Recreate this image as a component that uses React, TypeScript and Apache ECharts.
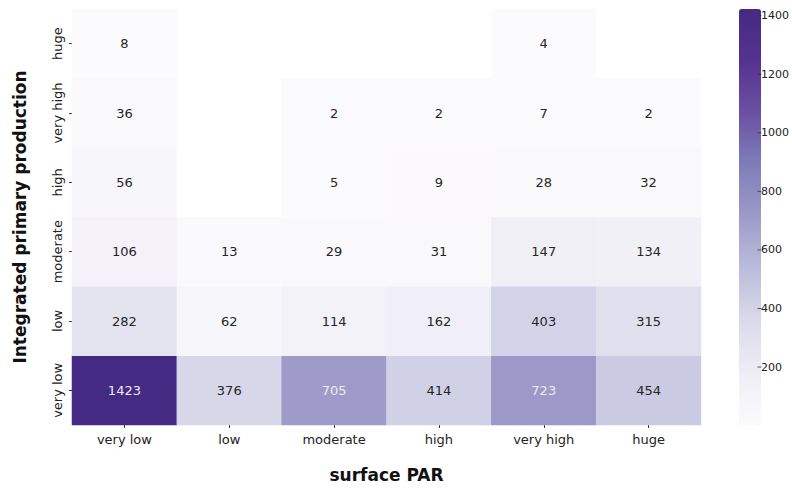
import React, { useEffect, useRef } from "react";
import * as echarts from "echarts";

const xCategories = ["very low", "low", "moderate", "high", "very high", "huge"];
const yCategories = ["very low", "low", "moderate", "high", "very high", "huge"];

// rows by y category (bottom to top), values per x category; null = empty cell
const rowVeryLow = [1423, 376, 705, 414, 723, 454];
const rowLow = [282, 62, 114, 162, 403, 315];
const rowModerate = [106, 13, 29, 31, 147, 134];
const rowHigh = [56, null, 5, 9, 28, 32];
const rowVeryHigh = [36, null, 2, 2, 7, 2];
const rowHuge = [8, null, null, null, 4, null];

const colorbarTicks = [200, 400, 600, 800, 1000, 1200, 1400];
const valueMin = 2;
const valueMax = 1423;

const purples = [
  "#fbfafc",
  "#efedf5",
  "#dadaeb",
  "#bcbddc",
  "#9e9ac8",
  "#807dba",
  "#6a51a3",
  "#56328f",
  "#452a84",
];

export default function App() {
  const ref = useRef<HTMLDivElement>(null);
  useEffect(() => {
    if (!ref.current) return;
    const chart = echarts.init(ref.current, undefined, { renderer: "svg" });
    const rows = [rowVeryLow, rowLow, rowModerate, rowHigh, rowVeryHigh, rowHuge];
    const data: any[] = [];
    rows.forEach((row, yi) => {
      row.forEach((v, xi) => {
        if (v === null) return;
        data.push({
          value: [xi, yi, v],
          label: { color: v > 600 ? "#ece9f2" : "#262626" },
        });
      });
    });
    const font = "DejaVu Sans";
    chart.setOption({
      animation: false,
      backgroundColor: "#ffffff",
      textStyle: { fontFamily: font },
      grid: [
        { left: 72, top: 9, width: 629, height: 416 },
        { left: 739, top: 9, width: 22, height: 416 },
      ],
      xAxis: [
        {
          type: "category",
          gridIndex: 0,
          data: xCategories,
          axisLine: { show: false },
          axisTick: { show: true, alignWithLabel: true, length: 3, lineStyle: { color: "#333" } },
          axisLabel: { interval: 0, fontSize: 13, color: "#222", margin: 8, fontFamily: font },
          splitLine: { show: false },
          name: "surface PAR",
          nameLocation: "middle",
          nameGap: 41,
          nameTextStyle: { fontSize: 17, fontWeight: "bold", color: "#111", fontFamily: font },
        },
        {
          type: "category",
          gridIndex: 1,
          data: ["c"],
          show: false,
        },
      ],
      yAxis: [
        {
          type: "category",
          gridIndex: 0,
          data: yCategories,
          axisLine: { show: false },
          axisTick: { show: true, alignWithLabel: true, length: 3, lineStyle: { color: "#333" } },
          axisLabel: { interval: 0, fontSize: 13, color: "#222", rotate: 90, margin: 8, fontFamily: font },
          splitLine: { show: false },
          name: "Integrated primary production",
          nameLocation: "middle",
          nameGap: 44,
          nameRotate: 90,
          nameTextStyle: { fontSize: 17, fontWeight: "bold", color: "#111", fontFamily: font },
        },
        {
          type: "value",
          gridIndex: 1,
          position: "right",
          min: valueMin,
          max: valueMax,
          axisLine: { show: false, onZero: false },
          splitLine: { show: false },
          axisTick: { show: false },
          axisLabel: {
            fontSize: 11,
            color: "#222",
            margin: 7,
            fontFamily: font,
            customValues: colorbarTicks,
            formatter: (v: number) => String(v),
          },
        },
      ],
      visualMap: {
        type: "continuous",
        min: valueMin,
        max: valueMax,
        seriesIndex: 0,
        calculable: false,
        left: 739,
        top: 9,
        itemWidth: 22,
        itemHeight: 416,
        padding: 0,
        text: ["", ""],
        showLabel: false,
        inRange: { color: purples },
      },
      series: [
        {
          type: "heatmap",
          xAxisIndex: 0,
          yAxisIndex: 0,
          data,
          label: { show: true, fontSize: 13, fontFamily: font },
          itemStyle: { borderWidth: 0 },
          emphasis: { disabled: true },
        },
        {
          type: "scatter",
          xAxisIndex: 1,
          yAxisIndex: 1,
          symbol: "rect",
          symbolSize: [4, 1],
          symbolOffset: [13, 0],
          itemStyle: { color: "#333333" },
          silent: true,
          z: 10,
          data: colorbarTicks.map((t) => ["c", t]),
        },
      ],
    });
    return () => chart.dispose();
  }, []);
  return (
    <div
      ref={ref}
      style={{ position: "fixed", left: 0, top: 0, width: 792, height: 490 }}
    />
  );
}
